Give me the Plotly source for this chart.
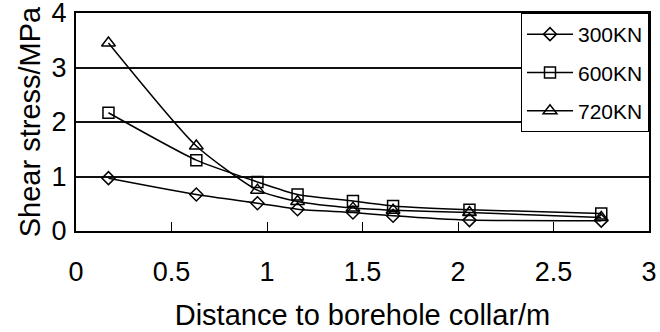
import plotly.graph_objects as go

distance = [0.17, 0.63, 0.95, 1.16, 1.45, 1.66, 2.06, 2.75]
stress_300 = [0.97, 0.67, 0.51, 0.40, 0.34, 0.28, 0.20, 0.19]
stress_600 = [2.17, 1.30, 0.90, 0.67, 0.55, 0.46, 0.39, 0.32]
stress_720 = [3.45, 1.56, 0.75, 0.54, 0.42, 0.38, 0.34, 0.25]
series_names = ["300KN", "600KN", "720KN"]
x_ticks = [0, 0.5, 1, 1.5, 2, 2.5, 3]
y_ticks = [0, 1, 2, 3, 4]

FONT = "Liberation Sans, Arial, Helvetica, sans-serif"

fig = go.Figure()
symbols = ["diamond-open", "square-open", "triangle-up-open"]
sizes = [10, 11, 12]
for i, (name, ys) in enumerate(zip(series_names, [stress_300, stress_600, stress_720])):
    fig.add_trace(go.Scatter(
        x=distance, y=ys, name=name, mode="lines+markers",
        line=dict(color="black", width=1.5, shape="spline", smoothing=0.6),
        marker=dict(symbol=symbols[i], size=sizes[i], color="black",
                    line=dict(color="black", width=1.5)),
        legendgroup=name,
    ))

fig.update_layout(
    width=660, height=332,
    margin=dict(l=76, r=11, t=13, b=101, autoexpand=False),
    paper_bgcolor="white", plot_bgcolor="white",
    font=dict(family=FONT, color="black"),
    legend=dict(
        x=1, y=1, xanchor="right", yanchor="top",
        bordercolor="black", borderwidth=1, bgcolor="white",
        font=dict(size=21, family=FONT),
        tracegroupgap=8, traceorder="grouped", itemwidth=46,
    ),
    showlegend=True,
)
fig.update_xaxes(
    range=[0, 3], tickvals=x_ticks, ticktext=[str(v) for v in x_ticks],
    ticks="inside", ticklen=9, tickwidth=1, tickcolor="black",
    showline=True, linecolor="black", linewidth=2, mirror=True,
    showgrid=False, zeroline=False, automargin=False, ticklabeloverflow="allow",
    tickfont=dict(size=27, family=FONT), ticklabelstandoff=16,
    title=dict(text="Distance to borehole collar/m", font=dict(size=29, family=FONT), standoff=18),
)
fig.update_yaxes(
    range=[0, 4], tickvals=y_ticks, ticktext=[str(v) for v in y_ticks],
    ticks="", automargin=False, ticklabeloverflow="allow",
    showline=True, linecolor="black", linewidth=2, mirror=True,
    showgrid=True, gridcolor="#111111", gridwidth=2, zeroline=False,
    tickfont=dict(size=27, family=FONT), ticklabelstandoff=2,
    title=dict(text="Shear stress/MPa", font=dict(size=29, family=FONT), standoff=2),
)

fig.write_html(
    "out.html",
    config={"displayModeBar": False, "staticPlot": True},
    post_script="document.body.style.margin='0';document.body.style.padding='0';",
)
